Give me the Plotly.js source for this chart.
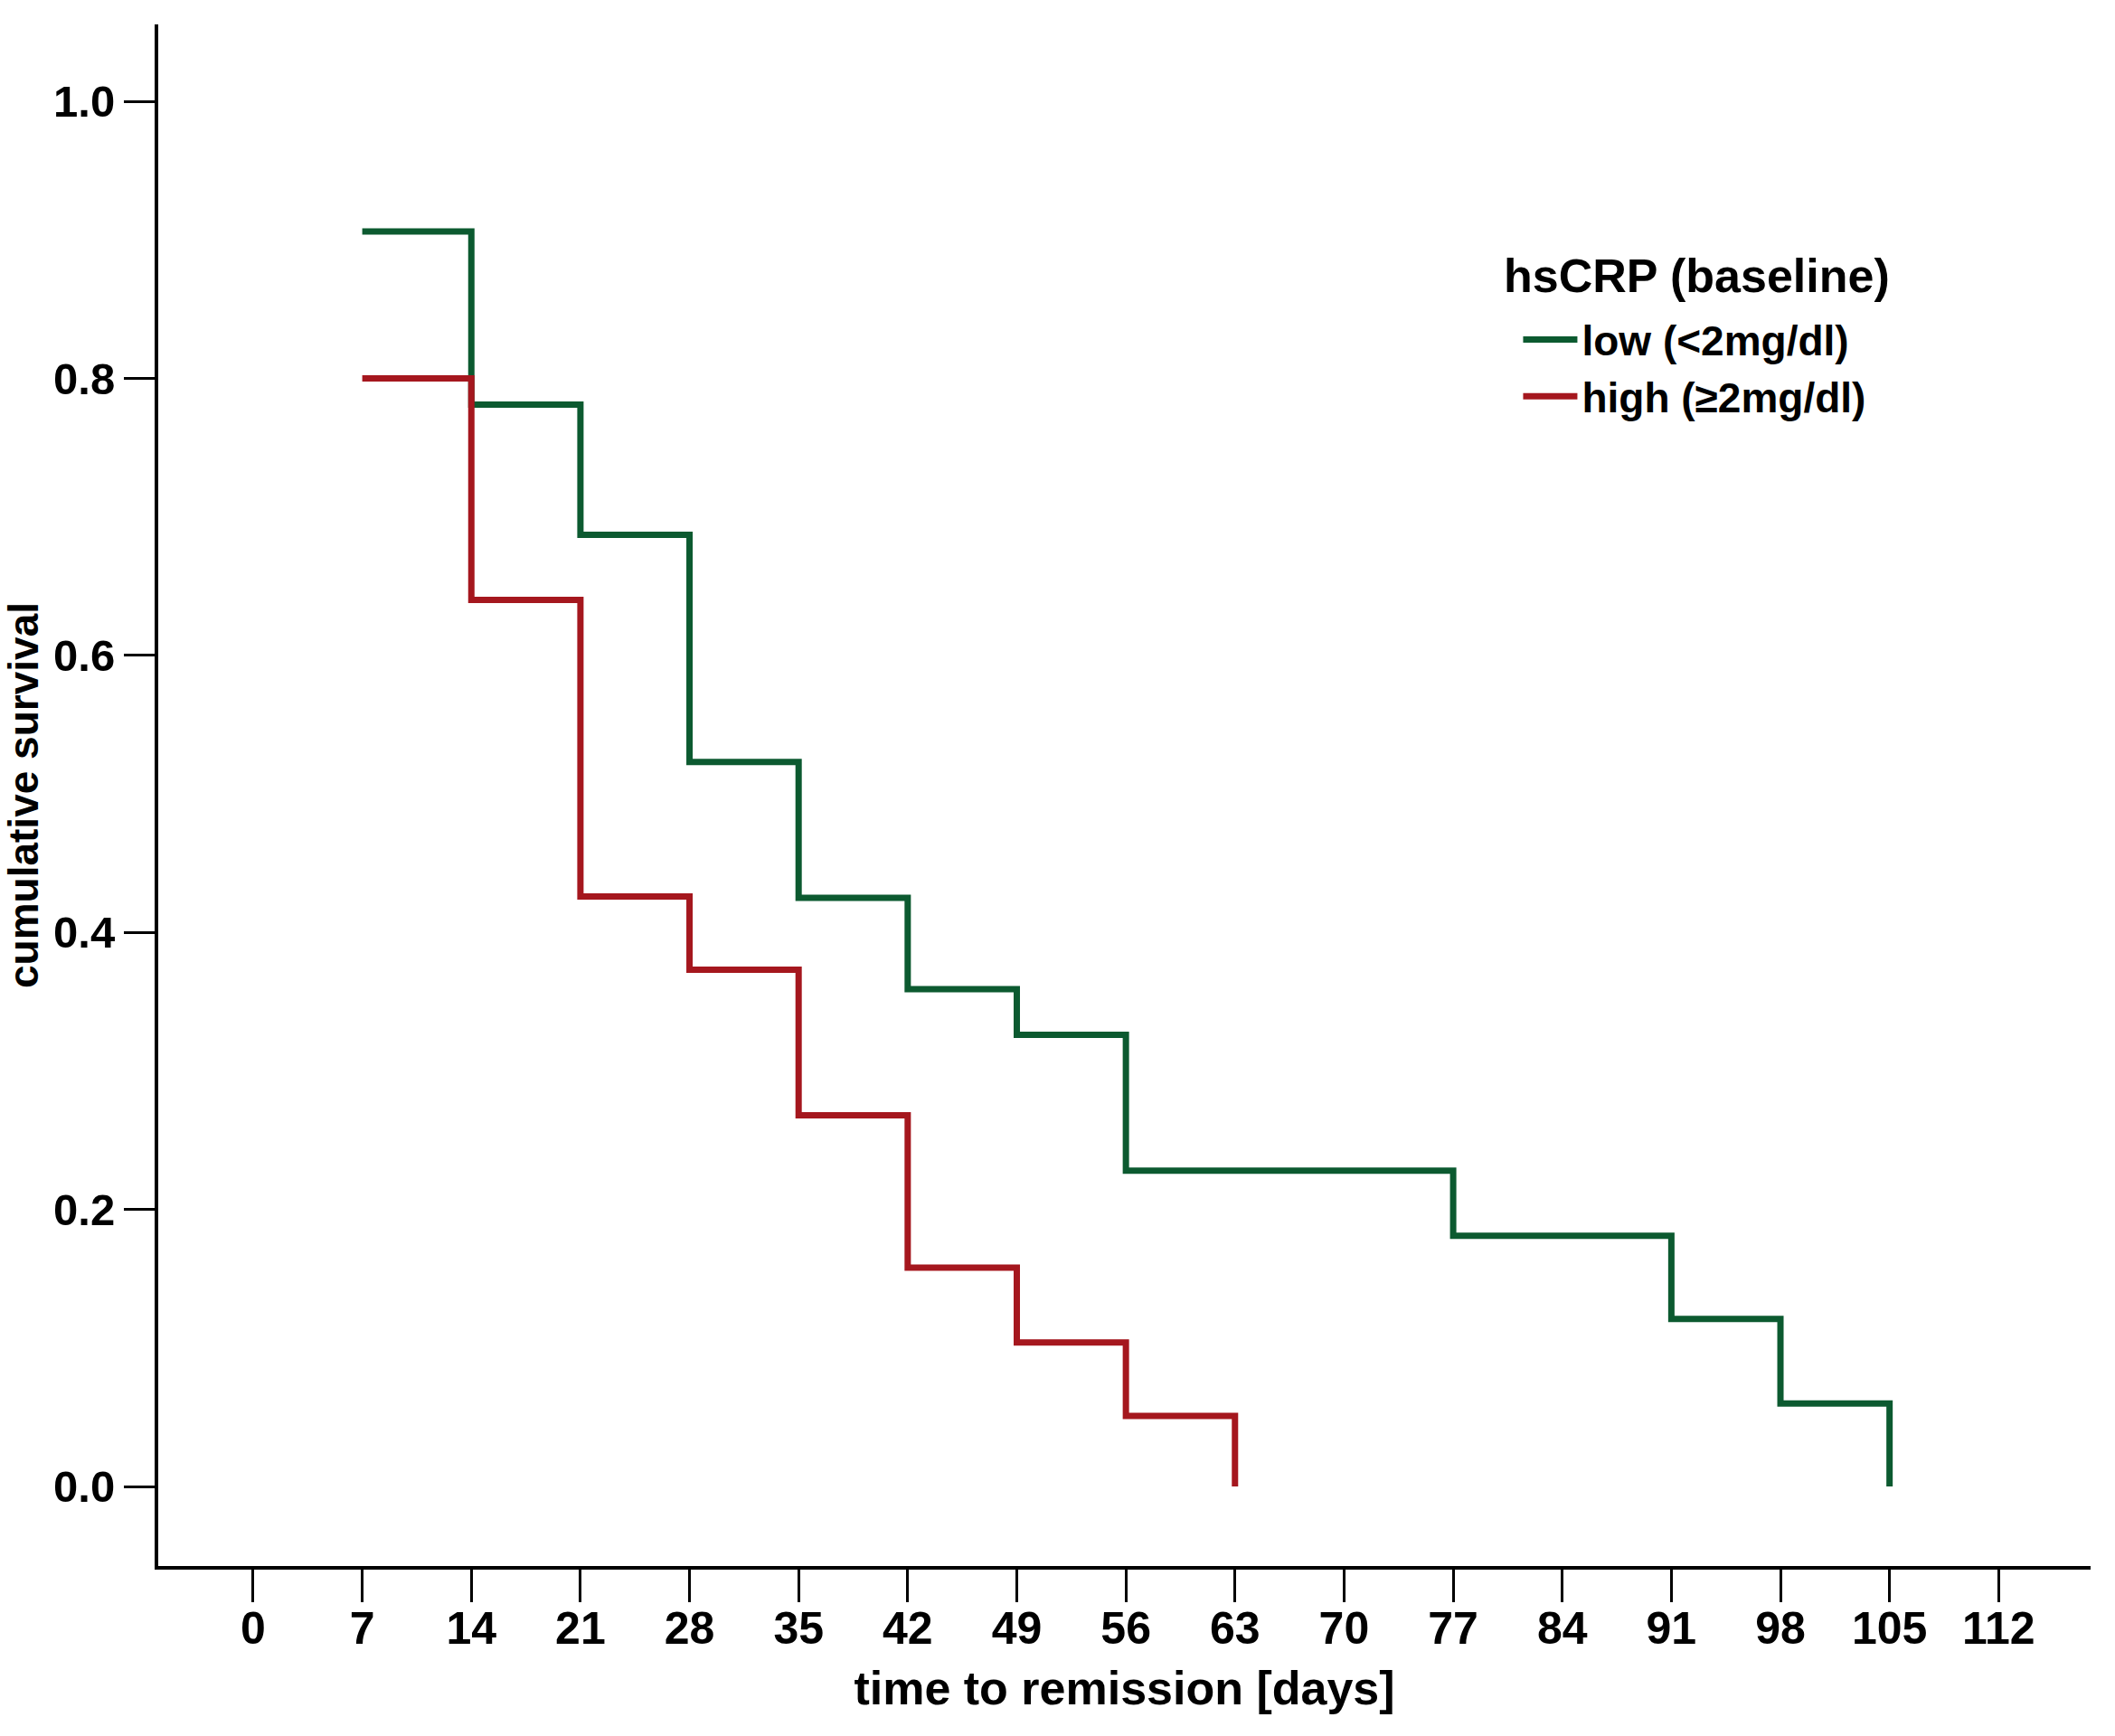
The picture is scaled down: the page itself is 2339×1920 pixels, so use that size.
<!DOCTYPE html>
<html>
<head>
<meta charset="utf-8">
<script src="https://cdn.plot.ly/plotly-3.0.1.min.js"></script>
<style>html,body{margin:0;padding:0;background:#fff;}#chart{width:2339px;height:1920px;}</style>
</head>
<body>
<div id="chart"></div>
<script>
// Data
const lowDays = [7, 14, 21, 28, 35, 42, 49, 56, 77, 91, 98, 105];
const lowSurvival = [0.906, 0.781, 0.687, 0.523, 0.425, 0.359, 0.326, 0.228, 0.181, 0.121, 0.060, 0.0];
const highDays = [7, 14, 21, 28, 35, 42, 49, 56, 63];
const highSurvival = [0.800, 0.640, 0.426, 0.373, 0.268, 0.158, 0.104, 0.051, 0.0];
const xTickVals = [0, 7, 14, 21, 28, 35, 42, 49, 56, 63, 70, 77, 84, 91, 98, 105, 112];
const yTickVals = [0.0, 0.2, 0.4, 0.6, 0.8, 1.0];
const seriesNames = ['low (<2mg/dl)', 'high (≥2mg/dl)'];
const legendTitle = 'hsCRP (baseline)';
const xTitle = 'time to remission [days]';
const yTitle = 'cumulative survival';

const FONT = 'Liberation Sans, Arial, sans-serif';
const GREEN = '#0c5a30';
const RED = '#a5171e';

const traces = [
  {x: lowDays, y: lowSurvival, name: seriesNames[0], type: 'scatter', mode: 'lines',
   line: {shape: 'hv', color: GREEN, width: 7}},
  {x: highDays, y: highSurvival, name: seriesNames[1], type: 'scatter', mode: 'lines',
   line: {shape: 'hv', color: RED, width: 7}}
];

const layout = {
  width: 2339, height: 1920,
  margin: {l: 175, r: 27, t: 27, b: 188},
  paper_bgcolor: '#fff', plot_bgcolor: '#fff',
  font: {family: FONT, color: '#000', size: 48},
  showlegend: true,
  legend: {
    x: 0.704, xanchor: 'left', y: 0.817, yanchor: 'top',
    itemwidth: 60,
    font: {family: FONT, size: 46, color: '#000', weight: 'bold'},
    bgcolor: 'rgba(0,0,0,0)', borderwidth: 0, tracegroupgap: 0
  },
  xaxis: {
    range: [-6.09, 117.9], showgrid: false, zeroline: false,
    showline: true, linecolor: '#000', linewidth: 4,
    ticks: 'outside', ticklen: 36, tickwidth: 3, tickcolor: '#000',
    tickmode: 'array', tickvals: xTickVals, ticktext: xTickVals.map(String),
    ticklabelstandoff: -14,
    tickfont: {family: FONT, size: 50, color: '#000', weight: 'bold'},
    title: {text: xTitle, font: {family: FONT, size: 52, color: '#000', weight: 'bold'}, standoff: 22}
  },
  yaxis: {
    range: [-0.0574, 1.0555], showgrid: false, zeroline: false,
    showline: true, linecolor: '#000', linewidth: 4, automargin: true,
    ticks: 'outside', ticklen: 34, tickwidth: 3, tickcolor: '#000',
    tickmode: 'array', tickvals: yTickVals, ticktext: yTickVals.map(v => v.toFixed(1)),
    tickfont: {family: FONT, size: 49, color: '#000', weight: 'bold'},
    title: {text: yTitle, font: {family: FONT, size: 46, color: '#000', weight: 'bold'}, standoff: 6}
  },
  annotations: [
    {text: legendTitle, xref: 'paper', yref: 'paper', x: 0.796, y: 0.837,
     xanchor: 'center', yanchor: 'middle', showarrow: false,
     font: {family: FONT, size: 52, color: '#000', weight: 'bold'}}
  ]
};

Plotly.newPlot('chart', traces, layout, {displayModeBar: false, staticPlot: true});
</script>
</body>
</html>
